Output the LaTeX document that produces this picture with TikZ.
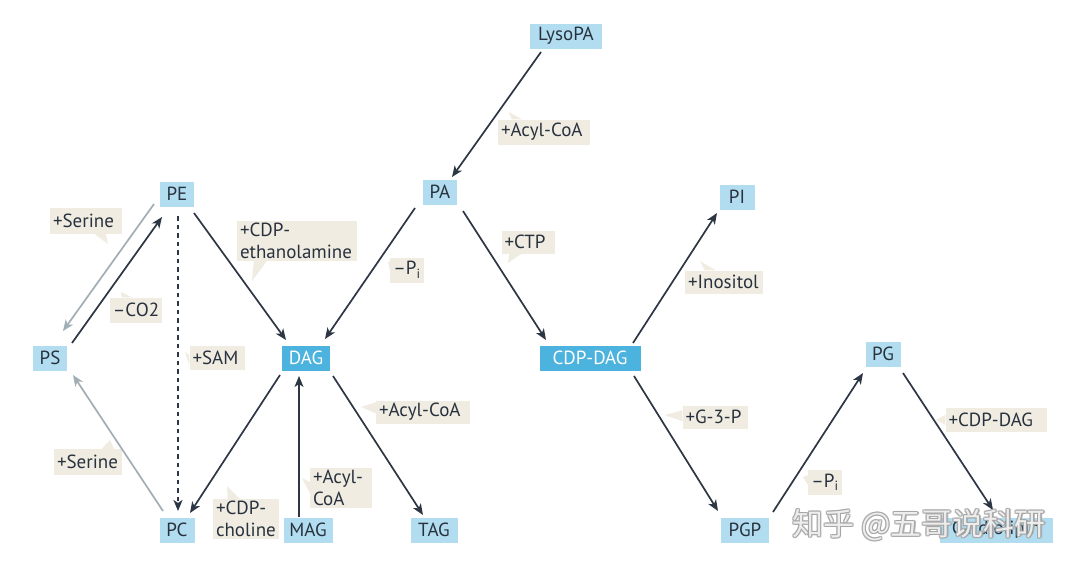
\documentclass[tikz,border=0pt]{standalone}
\usepackage{fontspec}
\setmainfont{PT Sans}
\newfontfamily\cjk{Noto Sans CJK SC}
\usetikzlibrary{arrows.meta,calc}
\definecolor{boxblue}{RGB}{178,221,240}
\definecolor{boxdark}{RGB}{76,178,222}
\definecolor{labfill}{RGB}{240,236,226}
\definecolor{arrdark}{RGB}{45,55,68}
\definecolor{arrgray}{RGB}{162,174,182}
\definecolor{txt}{RGB}{40,50,62}
\definecolor{wmgray}{RGB}{165,165,165}
\tikzset{
  mol/.style={fill=boxblue, text=txt, minimum height=25pt, inner xsep=2pt, inner ysep=0pt, minimum width=#1},
  keymol/.style={fill=boxdark, text=white, minimum height=25pt, inner xsep=2pt, inner ysep=0pt, minimum width=#1},
  lab/.style={fill=labfill, text=txt, inner xsep=3pt, inner ysep=2pt, text width=#1, align=left},
  labs/.style={fill=labfill, text=txt, inner xsep=3pt, inner ysep=2pt, minimum width=#1},
  tailf/.style={fill=labfill},
  rx/.style={draw=arrdark, line width=1.7pt, -{Stealth[length=11pt,width=9pt,inset=3pt]}},
  rxgray/.style={draw=arrgray, line width=1.7pt, -{Stealth[length=11pt,width=9pt,inset=3pt]}},
  rxdash/.style={rx, dash pattern=on 4.5pt off 4pt, line width=2.2pt},
  wm/.style={font=\cjk\fontsize{31}{34}\selectfont, anchor=west}
}
\begin{document}
\begin{tikzpicture}[x=1pt,y=-1pt, font=\fontsize{19}{22}\selectfont]
\useasboundingbox (0,0) rectangle (1080,568);
\fill[white] (0,0) rectangle (1080,568);

% molecule nodes
\node[mol=72pt] (LysoPA) at (566,36) {LysoPA};
\node[mol=34pt] (PA) at (440,192) {PA};
\node[mol=34pt] (PE) at (177,194) {PE};
\node[mol=34pt] (PS) at (50,358) {PS};
\node[keymol=48pt] (DAG) at (306,358) {DAG};
\node[keymol=101pt] (CDP) at (590,358) {CDP-DAG};
\node[mol=35pt] (PI) at (737,197) {PI};
\node[mol=35pt] (PG) at (883,354) {PG};
\node[mol=35pt] (PC) at (177,530) {PC};
\node[mol=49pt] (MAG) at (308,530) {MAG};
\node[mol=47pt] (TAG) at (434,530) {TAG};
\node[mol=48pt] (PGP) at (745,530) {PGP};
\node[mol=113pt] (CL) at (996,530) {Cardiolipin};

% labels with callout tails
\node[lab=86pt, minimum height=25pt] (acyl1) at (544,132) {+Acyl-CoA};
\fill[tailf] ([xshift=14pt]acyl1.north west) -- (509,112) -- ([xshift=24pt]acyl1.north west) -- cycle;

\node[lab=66pt, minimum height=26pt] (ser1) at (86,221) {+Serine};
\fill[tailf] ([xshift=45pt]ser1.south west) -- (108,244) -- ([xshift=56pt]ser1.south west) -- cycle;

\node[labs=50pt, minimum height=25pt] (co2) at (136,310) {–CO2};
\fill[tailf] ([xshift=12pt]co2.north west) -- (121,292) -- ([xshift=22pt]co2.north west) -- cycle;

\node[lab=114pt] (cdpe) at (297,241) {+CDP-\\ethanolamine};
\fill[tailf] ([xshift=17pt]cdpe.south west) -- (252,281) -- ([xshift=30pt]cdpe.south west) -- cycle;

\node[labs=29pt, minimum height=25pt] (pi1) at (407,270) {–P\textsubscript{i}};
\fill[tailf] ([yshift=-4pt]pi1.north west) -- (388,262) -- ([yshift=-14pt]pi1.north west) -- cycle;

\node[lab=47pt, minimum height=23pt] (ctp) at (528,242) {+CTP};
\fill[tailf] ([xshift=8pt]ctp.south west) -- (508,263) -- ([xshift=20pt]ctp.south west) -- cycle;

\node[lab=72pt, minimum height=23pt] (ino) at (724,282) {+Inositol};
\fill[tailf] ([xshift=20pt]ino.north west) -- (700,261) -- ([xshift=31pt]ino.north west) -- cycle;

\node[lab=49pt, minimum height=24pt] (sam) at (217,358) {+SAM};
\fill[tailf] ([yshift=-9pt]sam.north west) -- (185,352) -- ([yshift=-19pt]sam.north west) -- cycle;

\node[lab=88pt, minimum height=23pt] (acyl2) at (423,412) {+Acyl-CoA};
\fill[tailf] ([yshift=-2pt]acyl2.north west) -- (361,407) -- ([yshift=-13pt]acyl2.north west) -- cycle;

\node[lab=59pt, minimum height=23pt] (g3p) at (715,417) {+G-3-P};
\fill[tailf] ([yshift=-5pt]g3p.north west) -- (665,415) -- ([yshift=-16pt]g3p.north west) -- cycle;

\node[lab=62pt, minimum height=26pt] (ser2) at (88,462) {+Serine};
\fill[tailf] ([xshift=48pt]ser2.north west) -- (110,440) -- ([xshift=60pt]ser2.north west) -- cycle;

\node[lab=56pt] (acyl3) at (341,488) {+Acyl-\\CoA};
\fill[tailf] ([yshift=-14pt]acyl3.north west) -- (302,478) -- ([yshift=-25pt]acyl3.north west) -- cycle;

\node[lab=60pt] (cdpc) at (246,519) {+CDP-\\choline};
\fill[tailf] ([xshift=15pt]cdpc.north west) -- (227,486) -- ([xshift=27pt]cdpc.north west) -- cycle;

\node[labs=29pt, minimum height=25pt] (pi2) at (825,482) {–P\textsubscript{i}};
\fill[tailf] ([yshift=-6pt]pi2.north west) -- (803,477) -- ([yshift=-16pt]pi2.north west) -- cycle;

\node[lab=95pt, minimum height=24pt] (cdpdag) at (996,420) {+CDP-DAG};
\fill[tailf] ([yshift=-7pt]cdpdag.north west) -- (936,420) -- ([yshift=-17pt]cdpdag.north west) -- cycle;

% reactions
\draw[rx] ($(LysoPA.center)+(-25,16)$) -- ($(PA.center)+(12,-15)$);
\draw[rx] ($(PA.center)+(-25,16)$) -- ($(DAG.center)+(19,-19)$);
\draw[rx] ($(PA.center)+(23,19)$) -- ($(CDP.center)+(-44,-18)$);
\draw[rx] ($(PE.center)+(17,19)$) -- ($(DAG.center)+(-20,-18)$);
\draw[rxdash] ($(PE.center)+(1,22)$) -- ($(PC.center)+(1,-19)$);
\draw[rx] ($(PS.center)+(22,-15)$) -- ($(PE.center)+(-15,23)$);
\draw[rxgray] ($(PE.center)+(-23,10)$) -- ($(PS.center)+(13,-27)$);
\draw[rxgray] ($(PC.center)+(-14,-19)$) -- ($(PS.center)+(23,17)$);
\draw[rx] ($(DAG.center)+(-26,17)$) -- ($(PC.center)+(13,-17)$);
\draw[rx] ($(MAG.center)+(-9,-13)$) -- ($(DAG.center)+(-7,18)$);
\draw[rx] ($(DAG.center)+(27,18)$) -- ($(TAG.center)+(-11,-15)$);
\draw[rx] ($(CDP.center)+(43,-15)$) -- ($(PI.center)+(-20,16)$);
\draw[rx] ($(CDP.center)+(44,18)$) -- ($(PGP.center)+(-27,-19)$);
\draw[rx] ($(PGP.center)+(28,-18)$) -- ($(PG.center)+(-20,19)$);
\draw[rx] ($(PG.center)+(20,19)$) -- ($(CL.center)+(-3,-20)$);

% watermark
\begin{scope}[opacity=0.75]
\foreach \dx/\dy in {-1/-1,1/-1,-1/1,1/1,0/-1.3,0/1.3,-1.3/0,1.3/0}
  \node[wm, text=wmgray] at (789+\dx,525+\dy) {知乎 @五哥说科研};
\end{scope}
\node[wm, text=white, opacity=0.8] (wmark) at (789,525) {知乎 @五哥说科研};
\end{tikzpicture}
\end{document}
